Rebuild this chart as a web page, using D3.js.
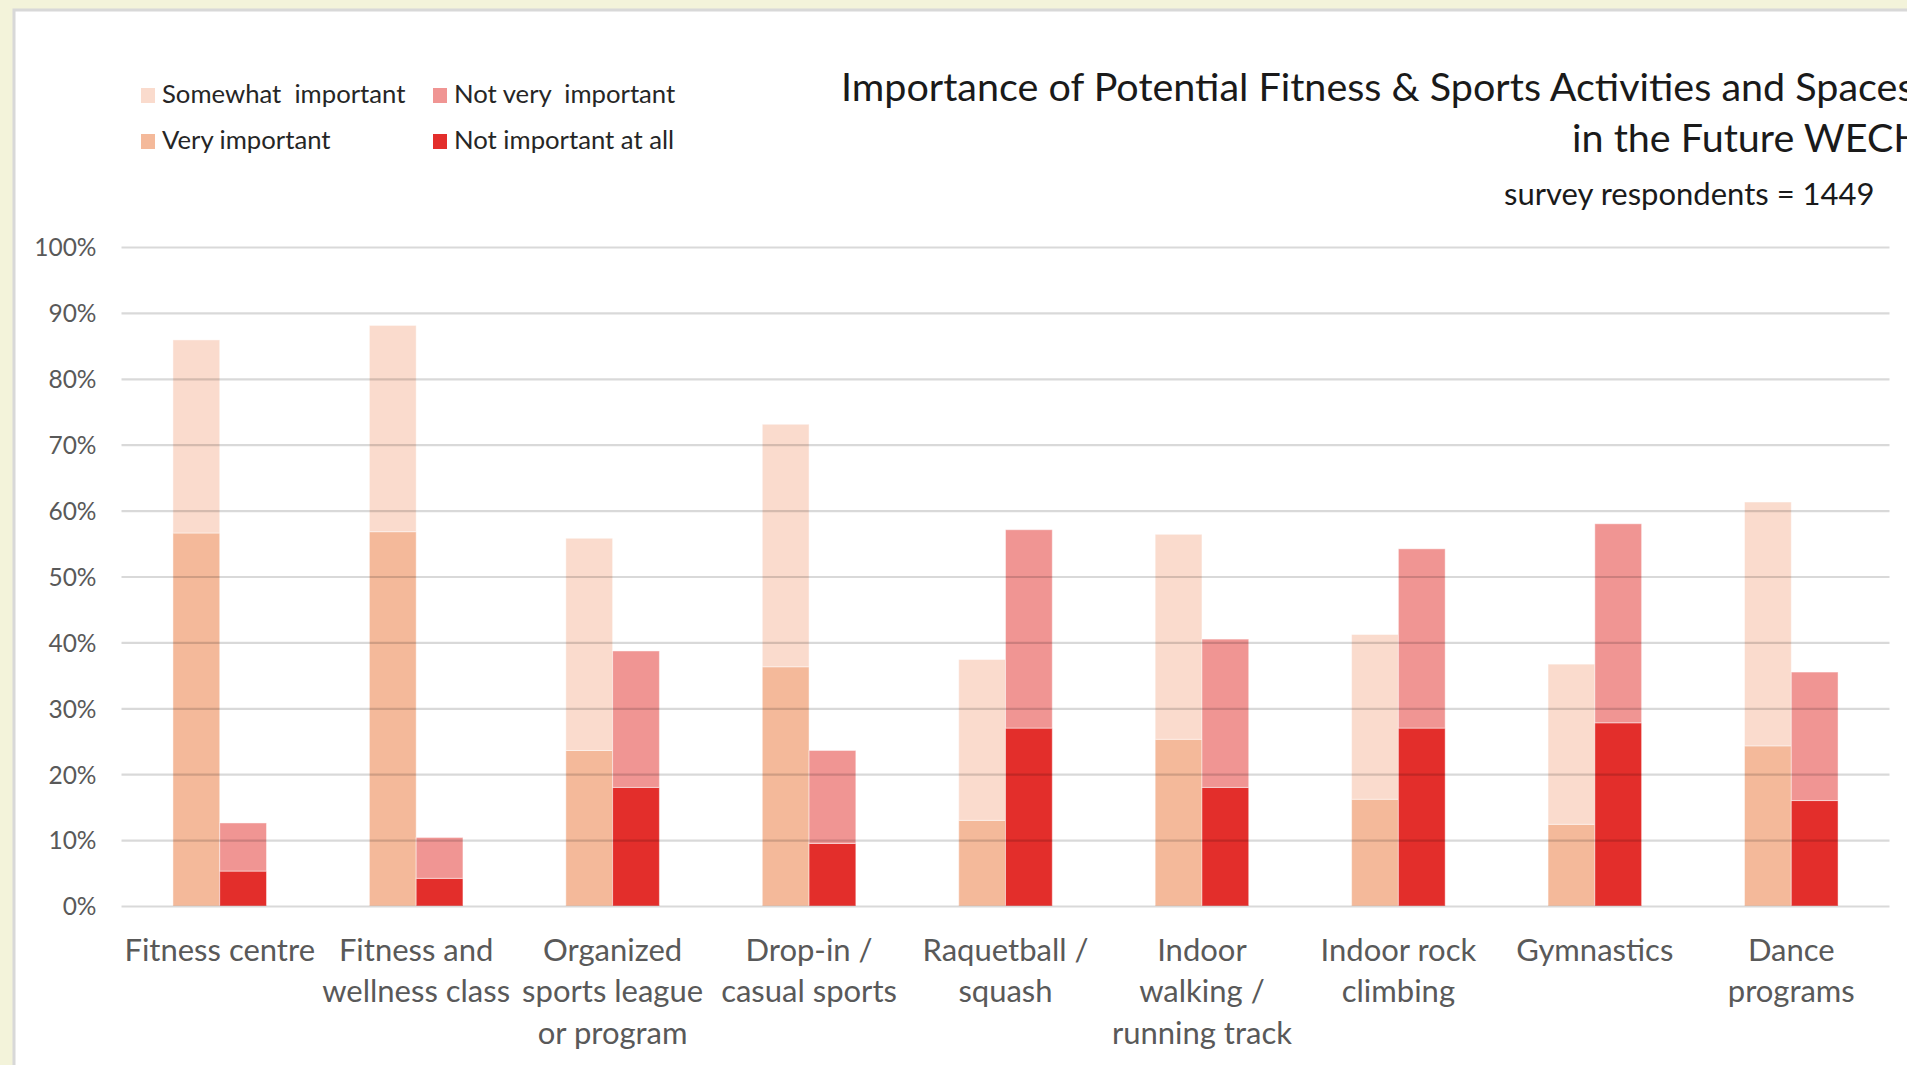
<!DOCTYPE html>
<html>
<head>
<meta charset="utf-8">
<script src="https://cdn.jsdelivr.net/npm/d3@7"></script>
<style>
  html, body { margin: 0; padding: 0; background: #f3f3da; overflow: hidden; }
  svg { display: block; }
  text { font-family: Lato, "Open Sans", sans-serif; }
</style>
</head>
<body>
<svg id="chart" width="1907" height="1065"></svg>
<script>
// Activity categories (tick labels split into lines)
const categories = [
  "Fitness centre",
  "Fitness and wellness class",
  "Organized sports league or program",
  "Drop-in / casual sports",
  "Raquetball / squash",
  "Indoor walking / running track",
  "Indoor rock climbing",
  "Gymnastics",
  "Dance programs"
];
const tickLines = [
  ["Fitness centre"],
  ["Fitness and", "wellness class"],
  ["Organized", "sports league", "or program"],
  ["Drop-in /", "casual sports"],
  ["Raquetball /", "squash"],
  ["Indoor", "walking /", "running track"],
  ["Indoor rock", "climbing"],
  ["Gymnastics"],
  ["Dance", "programs"]
];

// Share of respondents (%)
const veryImportant     = [56.6, 56.8, 23.6, 36.3, 13.0, 25.3, 16.2, 12.4, 24.3];
const somewhatImportant = [29.3, 31.3, 32.2, 36.8, 24.4, 31.1, 25.0, 24.3, 37.0];
const notVeryImportant  = [7.3, 6.2, 20.7, 14.1, 30.1, 22.5, 27.2, 30.2, 19.5];
const notImportantAtAll = [5.3, 4.2, 18.0, 9.5, 27.0, 18.0, 27.0, 27.8, 16.0];

const yTicks = [0, 10, 20, 30, 40, 50, 60, 70, 80, 90, 100];

const titleLines = ["Importance of Potential Fitness & Sports Activities and Spaces", "in the Future WECH"];
const subtitle = "survey respondents = 1449";

const legendItems = [
  { label: "Somewhat  important", color: "#fadbcd" },
  { label: "Not very  important", color: "#f09593" },
  { label: "Very important", color: "#f4b99a" },
  { label: "Not important at all", color: "#e32e2b" }
];

const colors = {
  very: "#f4b99a",
  somewhat: "#fadbcd",
  notVery: "#f09593",
  notAtAll: "#e32e2b"
};

const svg = d3.select("#chart");

// Chart area panel
svg.append("rect")
  .attr("x", 14).attr("y", 10)
  .attr("width", 2000).attr("height", 1200)
  .attr("fill", "#ffffff")
  .attr("stroke", "#d8d8d8")
  .attr("stroke-width", 3);

const plot = { left: 121.5, right: 1889.5, top: 247, bottom: 906 };

const x = d3.scaleBand()
  .domain(categories)
  .range([plot.left, plot.right])
  .paddingInner(0).paddingOuter(0);

const sub = d3.scaleBand()
  .domain(["important", "notImportant"])
  .range([0, x.bandwidth()])
  .paddingInner(0)
  .paddingOuter(1.1);

const y = d3.scaleLinear().domain([0, 100]).range([plot.bottom, plot.top]);

// Y axis labels
const yAxis = svg.append("g")
  .attr("transform", `translate(${plot.left - 25},0)`)
  .call(d3.axisLeft(y).tickValues(yTicks).tickSize(0).tickPadding(0).tickFormat(d => d + "%"));
yAxis.select(".domain").remove();
yAxis.selectAll("text")
  .attr("fill", "#595959")
  .style("font-size", "24.5px")
  .style("font-family", "Lato, sans-serif")
  .attr("dy", "0.36em");

// Stacked bars
const stacks = categories.map((c, i) => ({
  cat: c,
  segs: [
    { key: "important", y0: 0, y1: veryImportant[i], color: colors.very },
    { key: "important", y0: veryImportant[i], y1: veryImportant[i] + somewhatImportant[i], color: colors.somewhat },
    { key: "notImportant", y0: 0, y1: notImportantAtAll[i], color: colors.notAtAll },
    { key: "notImportant", y0: notImportantAtAll[i], y1: notImportantAtAll[i] + notVeryImportant[i], color: colors.notVery }
  ]
}));

const groups = svg.append("g").selectAll("g")
  .data(stacks).join("g")
  .attr("transform", d => `translate(${x(d.cat)},0)`);

groups.selectAll("rect")
  .data(d => d.segs).join("rect")
  .attr("x", d => sub(d.key))
  .attr("width", sub.bandwidth())
  .attr("y", d => y(d.y1))
  .attr("height", d => y(d.y0) - y(d.y1))
  .attr("fill", d => d.color)
  .attr("stroke", "rgba(255,255,255,0.45)")
  .attr("stroke-width", 1);

// Gridlines over the bars
const grid = svg.append("g")
  .attr("transform", `translate(${plot.left},0)`)
  .call(d3.axisLeft(y).tickValues(yTicks).tickSize(-(plot.right - plot.left)).tickFormat(""));
grid.select(".domain").remove();
grid.selectAll("line")
  .attr("stroke", "#000")
  .attr("stroke-opacity", 0.15)
  .attr("stroke-width", 2.2);

// Category labels
const xLabels = svg.append("g").selectAll("text")
  .data(categories).join("text")
  .attr("x", d => x(d) + x.bandwidth() / 2)
  .attr("y", 961)
  .attr("text-anchor", "middle")
  .attr("fill", "#595959")
  .style("font-size", "31px");
xLabels.selectAll("tspan")
  .data((d, i) => tickLines[i]).join("tspan")
  .attr("x", function() { return this.parentNode.getAttribute("x"); })
  .attr("dy", (d, i) => i === 0 ? 0 : 41.3)
  .text(d => d);

// Legend
const legend = svg.append("g");
const legendPos = [
  { x: 141, y: 103 }, { x: 433, y: 103 },
  { x: 141, y: 149 }, { x: 433, y: 149 }
];
legendItems.forEach((item, i) => {
  const p = legendPos[i];
  legend.append("rect")
    .attr("x", p.x).attr("y", p.y - 15)
    .attr("width", 14).attr("height", 15)
    .attr("fill", item.color);
  legend.append("text")
    .attr("x", p.x + 21).attr("y", p.y)
    .attr("fill", "#262626")
    .style("font-size", "25.7px")
    .style("white-space", "pre")
    .attr("xml:space", "preserve")
    .text(item.label);
});

// Title and subtitle
svg.append("text")
  .attr("x", 841).attr("y", 101)
  .attr("fill", "#1a1a1a")
  .style("font-size", "39.5px")
  .text(titleLines[0]);
svg.append("text")
  .attr("x", 1572).attr("y", 152)
  .attr("fill", "#1a1a1a")
  .style("font-size", "39.5px")
  .text(titleLines[1]);
svg.append("text")
  .attr("x", 1504).attr("y", 205)
  .attr("fill", "#1a1a1a")
  .style("font-size", "31px")
  .text(subtitle);
</script>
</body>
</html>
